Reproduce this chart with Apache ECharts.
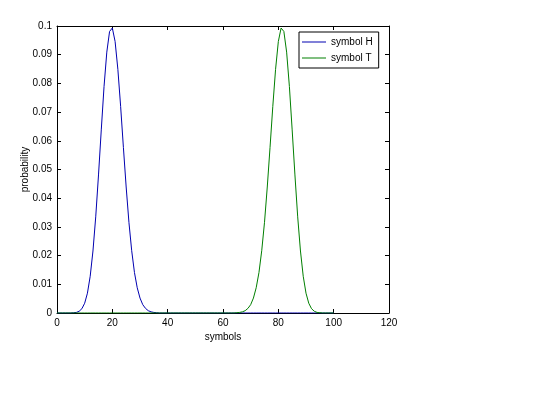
<!DOCTYPE html>
<html>
<head>
<meta charset="utf-8">
<script src="https://cdn.jsdelivr.net/npm/echarts@6/dist/echarts.min.js"></script>
<style>html,body{margin:0;padding:0;background:#fff}#c{width:560px;height:420px}</style>
</head>
<body>
<div id="c"></div>
<script>
var xValues = [0,1,2,3,4,5,6,7,8,9,10,11,12,13,14,15,16,17,18,19,20,21,22,23,24,25,26,27,28,29,30,31,32,33,34,35,36,37,38,39,40,41,42,43,44,45,46,47,48,49,50,51,52,53,54,55,56,57,58,59,60,61,62,63,64,65,66,67,68,69,70,71,72,73,74,75,76,77,78,79,80,81,82,83,84,85,86,87,88,89,90,91,92,93,94,95,96,97,98,99,100];
var symbolH = [0,0,0,0,0,0,0.0001,0.0002,0.0006,0.0015,0.0034,0.0069,0.0128,0.0216,0.0335,0.0481,0.0638,0.0789,0.0909,0.0981,0.0993,0.0946,0.0849,0.0720,0.0577,0.0439,0.0316,0.0217,0.0141,0.0088,0.0052,0.0029,0.0016,0.0008,0.0004,0.0002,0.0001,0,0,0,0,0,0,0,0,0,0,0,0,0,0,0,0,0,0,0,0,0,0,0,0,0,0,0,0,0,0,0,0,0,0,0,0,0,0,0,0,0,0,0,0,0,0,0,0,0,0,0,0,0,0,0,0,0,0,0,0,0,0,0,0,0,0];
var symbolT = [0,0,0,0,0,0,0,0,0,0,0,0,0,0,0,0,0,0,0,0,0,0,0,0,0,0,0,0,0,0,0,0,0,0,0,0,0,0,0,0,0,0,0,0,0,0,0,0,0,0,0,0,0,0,0,0,0,0,0,0,0,0,0,0,0,0.0001,0.0002,0.0004,0.0008,0.0016,0.0029,0.0052,0.0088,0.0141,0.0217,0.0316,0.0439,0.0577,0.0720,0.0849,0.0946,0.0993,0.0981,0.0909,0.0789,0.0638,0.0481,0.0335,0.0216,0.0128,0.0069,0.0034,0.0015,0.0006,0.0002,0.0001,0,0,0,0,0];
var seriesNames = ['symbol H', 'symbol T'];
var xLabel = 'symbols';
var yLabel = 'probability';

function pairs(ys){ return xValues.map(function(x,i){ return [x, ys[i]]; }); }

var chart = echarts.init(document.getElementById('c'), null, {renderer:'canvas'});
var font = 'Liberation Sans, Arial, sans-serif';
function axisCommon(){
  return {
    axisLine:{show:true,onZero:false,lineStyle:{color:'#000',width:1}},
    axisTick:{show:true,inside:true,length:4,lineStyle:{color:'#000'}},
    splitLine:{show:false}
  };
}
chart.setOption({
  backgroundColor:'#fff',
  animation:false,
  grid:{left:57,right:171,top:26,bottom:107,containLabel:false},
  legend:{
    data:seriesNames,
    orient:'vertical',
    left:299, top:32,
    width:80,
    itemWidth:24, itemHeight:1,
    icon:'rect',
    itemGap:6,
    padding:[5,6,5,3],
    borderColor:'#000', borderWidth:1,
    backgroundColor:'#fff',
    textStyle:{fontSize:10,color:'#000',fontFamily:font}
  },
  xAxis:[
    Object.assign({type:'value',min:0,max:120,interval:20,position:'bottom',
      name:xLabel,nameLocation:'middle',nameGap:19,nameMoveOverlap:false,
      nameTextStyle:{fontSize:10,color:'#000',fontFamily:font},
      axisLabel:{fontSize:10,color:'#000',fontFamily:font,margin:5}}, axisCommon()),
    Object.assign({type:'value',min:0,max:120,interval:20,position:'top',
      axisLabel:{show:false}}, axisCommon())
  ],
  yAxis:[
    Object.assign({type:'value',min:0,max:0.1,interval:0.01,position:'left',
      name:yLabel,nameLocation:'middle',nameGap:27,nameMoveOverlap:false,
      nameTextStyle:{fontSize:10,color:'#000',fontFamily:font},
      axisLabel:{fontSize:10,color:'#000',fontFamily:font,margin:5,
        formatter:function(v){ return String(parseFloat(v.toFixed(2))); }}}, axisCommon()),
    Object.assign({type:'value',min:0,max:0.1,interval:0.01,position:'right',
      axisLabel:{show:false}}, axisCommon())
  ],
  series:[
    {name:seriesNames[0],type:'line',data:pairs(symbolH),showSymbol:false,symbol:'none',
      lineStyle:{color:'#0000B0',width:1},itemStyle:{color:'#0000B0'}},
    {name:seriesNames[1],type:'line',data:pairs(symbolT),showSymbol:false,symbol:'none',
      lineStyle:{color:'#007F00',width:1},itemStyle:{color:'#007F00'}}
  ]
});
</script>
</body>
</html>
